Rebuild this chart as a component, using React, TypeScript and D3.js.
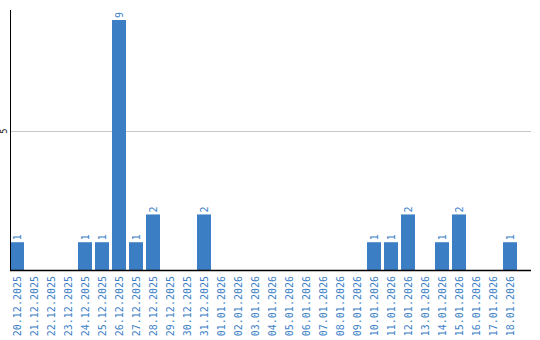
import React from "react";
import * as d3 from "d3";

const categories = [
  "20.12.2025","21.12.2025","22.12.2025","23.12.2025","24.12.2025","25.12.2025",
  "26.12.2025","27.12.2025","28.12.2025","29.12.2025","30.12.2025","31.12.2025",
  "01.01.2026","02.01.2026","03.01.2026","04.01.2026","05.01.2026","06.01.2026",
  "07.01.2026","08.01.2026","09.01.2026","10.01.2026","11.01.2026","12.01.2026",
  "13.01.2026","14.01.2026","15.01.2026","16.01.2026","17.01.2026","18.01.2026",
];
const values = [1,0,0,0,1,1,9,1,2,0,0,2,0,0,0,0,0,0,0,0,0,1,1,2,0,1,2,0,0,1];
const yTicks = [5];

const W = 540, H = 340;
const left = 10, baseY = 270, topY = 10, rightX = 531;
const barColor = "#3b7ec4";
const textColor = "#3d7fc6";

export default function App() {
  const x = d3.scaleBand<string>()
    .domain(categories)
    .range([left, left + 29 * 17 + 14])
    .paddingInner(3 / 17)
    .paddingOuter(0);
  const y = d3.scaleLinear().domain([0, 9]).range([baseY, 20]);
  const font = "'DejaVu Sans Mono', monospace";
  return (
    <svg width={W} height={H} style={{ position: "absolute", left: 0, top: 0 }}>
      {yTicks.map((t) => (
        <g key={t}>
          <line x1={left} x2={rightX} y1={Math.round(y(t)) + 0.5} y2={Math.round(y(t)) + 0.5} stroke="#c8c8c8" strokeWidth={1} />
          <text transform={`translate(7,${y(t)}) rotate(-90)`} textAnchor="middle" fontSize={8} fontFamily={font} fill="#000">{t}</text>
        </g>
      ))}
      {categories.map((c, i) => {
        const v = values[i];
        const bx = x(c)!;
        const cx = bx + x.bandwidth() / 2;
        return (
          <g key={c}>
            {v > 0 && (
              <>
                <rect x={bx} y={y(v)} width={x.bandwidth()} height={baseY - y(v)} fill={barColor} />
                <text transform={`translate(${cx + 3.5},${y(v) - 2}) rotate(-90)`} textAnchor="start" fontSize={10} fontFamily={font} fill={textColor}>{v}</text>
              </>
            )}
            <text transform={`translate(${cx + 3.5},${baseY + 6}) rotate(-90)`} textAnchor="end" fontSize={10} fontFamily={font} fill={textColor}>{c}</text>
          </g>
        );
      })}
      <line x1={left + 0.5} x2={left + 0.5} y1={topY} y2={baseY} stroke="#000" strokeWidth={1} />
      <line x1={left} x2={rightX} y1={baseY + 0.5} y2={baseY + 0.5} stroke="#000" strokeWidth={1.5} />
    </svg>
  );
}
